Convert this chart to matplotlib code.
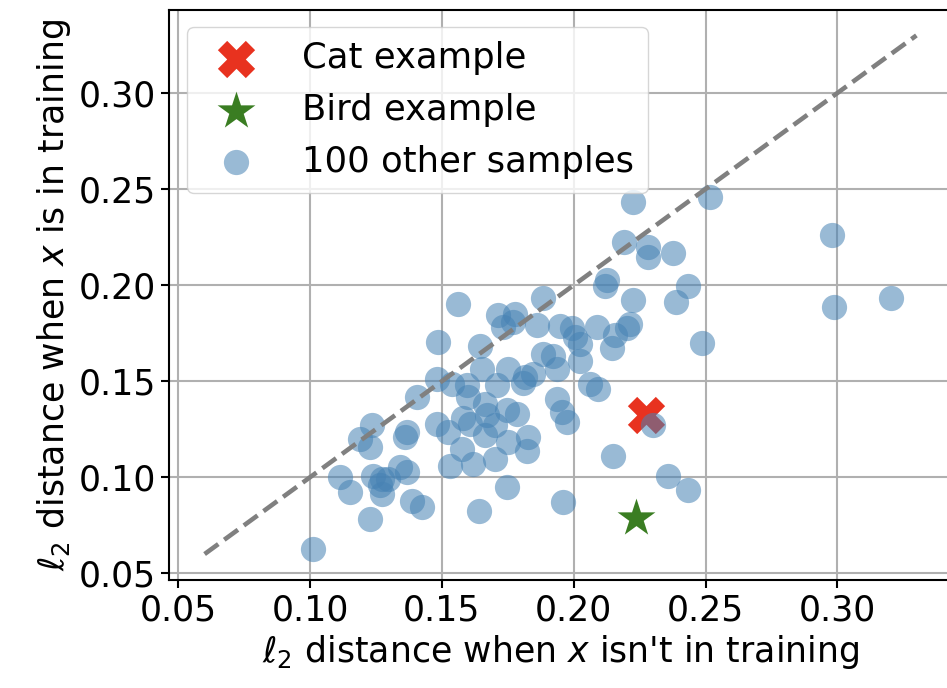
import matplotlib
matplotlib.use("Agg")
import matplotlib.pyplot as plt

# other samples: (x = l2 distance when x isn't in training, y = when x is in training)
other_x = [0.2226, 0.2517, 0.2191, 0.2283, 0.2280, 0.2378, 0.2125, 0.2119, 0.2435, 0.2979,
           0.2226, 0.2388, 0.2987, 0.3203, 0.1885, 0.1563, 0.1714, 0.1777, 0.1733, 0.1860,
           0.1948, 0.1992, 0.2005, 0.2024, 0.2087, 0.2157, 0.2145, 0.2214, 0.2201, 0.2486,
           0.1645, 0.1885, 0.2024, 0.1923, 0.1936, 0.1847, 0.1815, 0.1752, 0.1651, 0.1480,
           0.1537, 0.1594, 0.1708, 0.2062, 0.2093, 0.1404, 0.1600, 0.1936, 0.1663, 0.1746,
           0.1784, 0.1954, 0.1973, 0.1581, 0.1607, 0.1670, 0.1701, 0.1663, 0.1480, 0.1524,
           0.1752, 0.1828, 0.1822, 0.1575, 0.1619, 0.1531, 0.1701, 0.2301, 0.2150, 0.2359,
           0.2433, 0.1746, 0.1961, 0.1642, 0.1234, 0.1189, 0.1227, 0.1366, 0.1360, 0.1113,
           0.1151, 0.1240, 0.1272, 0.1297, 0.1265, 0.1272, 0.1341, 0.1366, 0.1385, 0.1423,
           0.1227, 0.1012, 0.1486, 0.1808, 0.1771]
other_y = [0.2435, 0.2459, 0.2227, 0.2200, 0.2148, 0.2165, 0.2026, 0.1995, 0.1995, 0.2261,
           0.1922, 0.1911, 0.1887, 0.1931, 0.1931, 0.1901, 0.1843, 0.1852, 0.1782, 0.1791,
           0.1786, 0.1776, 0.1730, 0.1696, 0.1782, 0.1739, 0.1671, 0.1800, 0.1776, 0.1699,
           0.1682, 0.1644, 0.1604, 0.1630, 0.1565, 0.1539, 0.1522, 0.1565, 0.1562, 0.1513,
           0.1487, 0.1478, 0.1478, 0.1487, 0.1461, 0.1417, 0.1417, 0.1405, 0.1383, 0.1348,
           0.1331, 0.1339, 0.1287, 0.1306, 0.1275, 0.1322, 0.1270, 0.1218, 0.1279, 0.1235,
           0.1183, 0.1209, 0.1139, 0.1148, 0.1070, 0.1061, 0.1096, 0.1270, 0.1113, 0.1009,
           0.0936, 0.0951, 0.0870, 0.0823, 0.1270, 0.1200, 0.1156, 0.1235, 0.1209, 0.1000,
           0.0922, 0.1009, 0.0992, 0.0992, 0.0957, 0.0913, 0.1052, 0.1026, 0.0878, 0.0843,
           0.0783, 0.0626, 0.1704, 0.1489, 0.1809]

cat_x, cat_y = [0.2274], [0.1322]
bird_x, bird_y = [0.2238], [0.0790]
diag = [0.06, 0.33]

labels = ["Cat example", "Bird example", "100 other samples"]
xticks = [0.05, 0.10, 0.15, 0.20, 0.25, 0.30]
yticks = [0.05, 0.10, 0.15, 0.20, 0.25, 0.30]

plt.rcParams["font.family"] = ["DejaVu Sans"]
plt.rcParams["font.size"] = 25

fig = plt.figure(figsize=(9.47, 6.88), dpi=100)
ax = fig.add_axes([169 / 947, 108 / 688, 783 / 947, 570.5 / 688])

ax.scatter(cat_x, cat_y, marker="X", s=720, color="#e8321f", linewidths=0, label=labels[0], zorder=3)
ax.scatter(bird_x, bird_y, marker="*", s=820, color="#3a7d22", linewidths=0, label=labels[1], zorder=3)
ax.scatter(other_x, other_y, s=330, color="steelblue", alpha=0.55, linewidths=0, label=labels[2], zorder=4)
ax.plot(diag, diag, linestyle="--", color="gray", lw=3.3, zorder=5)

ax.set_xticks(xticks)
ax.set_yticks(yticks)
ax.set_xticklabels([f"{v:.2f}" for v in xticks])
ax.set_yticklabels([f"{v:.2f}" for v in yticks])
ax.grid(True, color="#b0b0b0", lw=1.5)
ax.set_axisbelow(True)
for sp in ax.spines.values():
    sp.set_linewidth(1.5)
ax.tick_params(length=6, width=1.5)

ax.set_xlabel(r"$\ell_2$ distance when $x$ isn't in training")
ax.set_ylabel(r"$\ell_2$ distance when $x$ is in training")

ax.legend(loc="upper left", fontsize=25.5, handletextpad=0.85)

fig.savefig("out.png", dpi=100)
